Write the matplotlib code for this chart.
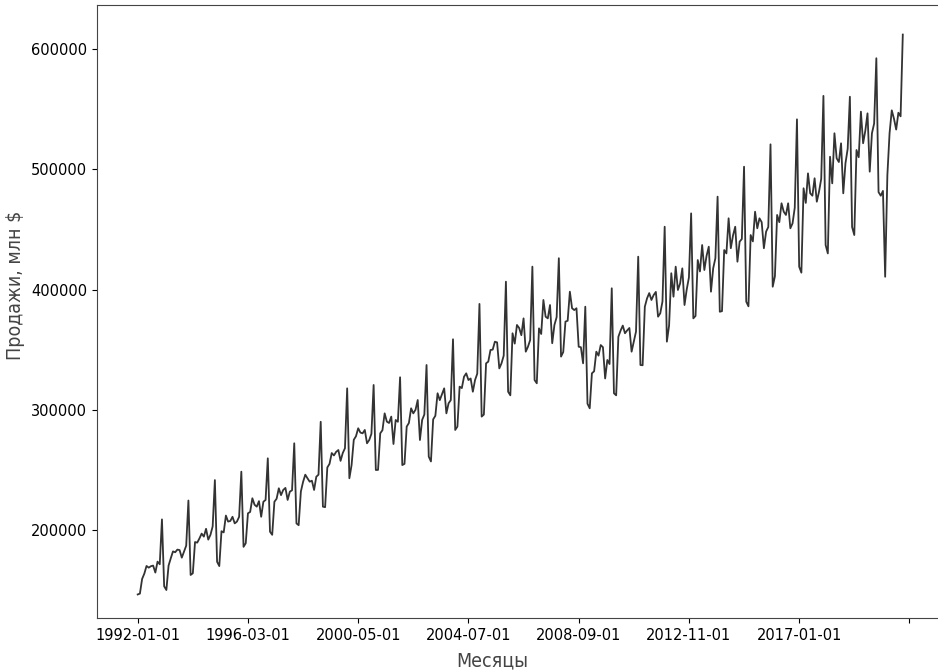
import numpy as np
import pandas as pd
import matplotlib
matplotlib.use("Agg")
import matplotlib.pyplot as plt

# Monthly retail sales, mln $ (Jan..Dec of every year)
sales_1992 = [146400, 147100, 159300, 163700, 170100, 168700, 169900, 170400, 164600, 173700, 171500, 208800]
sales_1993 = [153200, 150100, 170400, 176500, 182200, 181500, 183700, 183300, 177000, 182000, 187000, 224500]
sales_1994 = [162600, 164000, 190000, 189500, 193000, 197000, 194500, 201000, 192000, 196000, 203000, 241500]
sales_1995 = [173600, 170000, 199000, 198000, 212000, 207000, 207500, 211000, 205500, 207000, 211000, 248500]
sales_1996 = [186000, 189000, 213900, 215000, 226400, 221000, 219400, 224000, 211000, 223500, 225000, 259600]
sales_1997 = [198600, 196000, 223500, 226000, 234700, 229000, 233300, 235000, 225000, 231900, 233000, 272100]
sales_1998 = [205500, 204000, 232000, 240000, 246000, 243000, 240200, 241000, 233300, 244300, 246000, 290000]
sales_1999 = [219400, 219000, 252000, 255000, 264000, 262000, 265000, 266500, 257500, 264000, 268000, 317800]
sales_2000 = [243000, 254000, 275000, 278000, 284600, 281000, 280400, 283200, 272100, 274800, 280000, 320600]
sales_2001 = [249900, 250000, 280400, 283000, 297000, 290100, 289000, 294300, 271500, 291500, 290000, 327000]
sales_2002 = [254000, 255000, 286000, 289000, 301200, 297000, 300000, 308100, 274800, 291500, 296000, 337200]
sales_2003 = [261000, 257000, 292000, 295000, 313700, 308000, 313000, 317800, 297000, 305400, 308000, 358600]
sales_2004 = [283200, 286000, 319200, 318000, 327500, 330300, 324700, 326000, 315000, 324700, 330000, 388000]
sales_2005 = [294300, 296000, 338600, 340000, 349700, 350000, 356600, 356000, 334400, 338600, 345000, 406500]
sales_2006 = [315000, 312000, 363600, 355000, 370500, 368000, 362000, 376000, 348300, 352400, 358000, 419000]
sales_2007 = [324700, 322000, 367700, 363000, 391300, 377400, 376000, 387100, 355300, 370500, 377000, 426000]
sales_2008 = [344200, 348000, 373300, 374000, 398200, 384400, 382900, 384400, 352400, 352000, 338600, 385700]
sales_2009 = [305000, 301200, 330300, 332000, 348300, 345000, 353800, 352000, 326000, 341400, 338000, 401000]
sales_2010 = [313700, 312000, 360700, 365800, 370000, 363600, 366000, 368000, 348300, 356600, 365000, 427300]
sales_2011 = [337200, 337000, 385700, 392600, 397000, 391300, 395400, 398000, 377400, 380200, 390000, 452200]
sales_2012 = [356600, 370000, 413500, 394000, 419000, 399600, 405000, 417600, 387100, 400000, 410000, 463300]
sales_2013 = [376000, 378000, 424500, 415000, 437000, 416200, 428000, 435600, 398200, 417600, 426000, 477200]
sales_2014 = [381500, 382000, 432800, 430000, 459200, 434300, 445000, 452200, 423100, 439800, 442000, 502100]
sales_2015 = [389900, 386000, 445300, 440000, 464700, 450900, 459200, 456000, 434300, 448100, 452000, 520700]
sales_2016 = [402300, 411000, 462000, 456000, 471700, 464700, 462000, 471700, 450900, 455000, 468000, 541500]
sales_2017 = [419000, 414000, 484200, 472000, 496600, 480000, 478000, 492500, 473000, 481300, 492000, 561000]
sales_2018 = [437000, 430000, 510400, 488300, 529900, 509100, 506000, 521600, 480000, 505000, 517000, 560300]
sales_2019 = [452000, 445300, 516000, 510000, 547900, 521600, 532000, 546500, 498000, 529900, 538000, 592300]
sales_2020 = [481000, 478000, 482000, 410600, 495000, 530000, 549000, 542000, 533000, 547000, 544000, 612000]

sales = np.concatenate([
    sales_1992, sales_1993, sales_1994, sales_1995, sales_1996, sales_1997,
    sales_1998, sales_1999, sales_2000, sales_2001, sales_2002, sales_2003,
    sales_2004, sales_2005, sales_2006, sales_2007, sales_2008, sales_2009,
    sales_2010, sales_2011, sales_2012, sales_2013, sales_2014, sales_2015,
    sales_2016, sales_2017, sales_2018, sales_2019, sales_2020,
])
months = pd.date_range("1992-01-01", periods=len(sales), freq="MS").strftime("%Y-%m-%d")
df = pd.DataFrame({"month": months, "sales": sales})

y_ticks = [200000, 300000, 400000, 500000, 600000]

fig = plt.figure(figsize=(9.38, 6.70), dpi=100)
# axes run past the right edge: the original picture is cropped there
ax = fig.add_axes([97 / 938, 52 / 670, (943.5 - 97) / 938, 613 / 670])

x = np.arange(len(df))
ax.plot(x, df["sales"], color="#333333", linewidth=1.3)

ax.set_xlim(-18.46, len(df) - 1 + 18.46)
ax.set_ylim(126820, 636590)

# string index -> ticks every 50 months, no label past the data (like pandas)
xt = np.arange(0, 351, 50)
ax.set_xticks(xt)
ax.set_xticklabels([df["month"][i] if i < len(df) else "" for i in xt], fontsize=10.5)
ax.set_yticks(y_ticks)
ax.set_yticklabels([str(v) for v in y_ticks], fontsize=10.5)
for s in ax.spines.values():
    s.set_color("#444444")

label_font = ["DejaVu Sans"]
fig.text(492 / 938, 1 - 661 / 670, "Месяцы", family=label_font, fontstretch="condensed",
         fontsize=14, ha="center", va="center", color="#444444")
fig.text(16 / 938, 1 - 285 / 670, "Продажи, млн $", family=label_font, fontstretch="condensed",
         fontsize=14, ha="center", va="center", rotation=90, color="#444444")

plt.savefig("out.png", dpi=100)
